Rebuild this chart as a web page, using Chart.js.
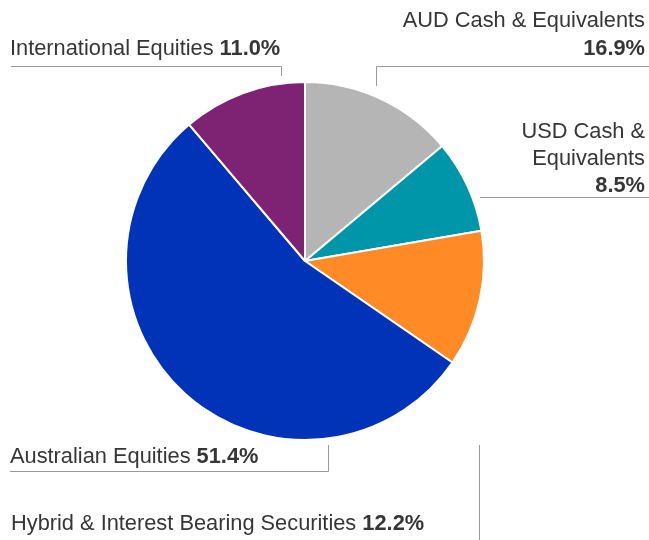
<!DOCTYPE html>
<html>
<head>
<meta charset="utf-8">
<script src="https://cdn.jsdelivr.net/npm/chart.js@4.4.0/dist/chart.umd.min.js"></script>
<style>
  html, body { margin: 0; padding: 0; background: #fff; }
  #wrap { width: 649px; height: 540px; }
</style>
</head>
<body>
<div id="wrap"><canvas id="allocationChart"></canvas></div>
<script>
// slice order follows the picture, clockwise from 12 o'clock
const categories = ['AUD Cash & Equivalents', 'USD Cash & Equivalents', 'Hybrid & Interest Bearing Securities', 'Australian Equities', 'International Equities'];
// slice sizes as drawn in the picture
const sliceValues = [13.9, 8.4, 12.3, 54.2, 11.2];
// percentages as printed in the labels
const labelValues = ['16.9%', '8.5%', '12.2%', '51.4%', '11.0%'];
const sliceColors = ['#b5b5b5', '#0096aa', '#ff8a26', '#0033b7', '#7e2373'];

const FONT = '"Liberation Sans", Arial, sans-serif';
const SIZE = '21.8px ';
const TEXT = '#363636';
const LINE = '#9a9a9a';

// draws "normal text" + " bold pct" on one line
function mixedText(ctx, x, y, normal, bold) {
  ctx.textAlign = 'left';
  ctx.font = SIZE + FONT;
  let w1 = ctx.measureText(normal).width;
  ctx.fillText(normal, x, y);
  ctx.font = 'bold ' + SIZE + FONT;
  ctx.fillText(bold, x + w1, y);
}

function line(ctx, pts) {
  ctx.beginPath();
  ctx.moveTo(pts[0][0], pts[0][1]);
  for (let i = 1; i < pts.length; i++) ctx.lineTo(pts[i][0], pts[i][1]);
  ctx.stroke();
}

const calloutPlugin = {
  id: 'callouts',
  afterDraw(chart) {
    const ctx = chart.ctx;
    ctx.save();
    ctx.fillStyle = TEXT;
    ctx.textBaseline = 'alphabetic';
    ctx.strokeStyle = LINE;
    ctx.lineWidth = 1;

    // International Equities
    mixedText(ctx, 10, 55, 'International Equities ', labelValues[4]);
    line(ctx, [[11, 66.5], [281.5, 66.5], [281.5, 76]]);

    // AUD Cash
    ctx.textAlign = 'right';
    ctx.font = SIZE + FONT;
    ctx.fillText('AUD Cash & Equivalents', 645, 27);
    ctx.font = 'bold ' + SIZE + FONT;
    ctx.fillText(labelValues[0], 645, 55);
    line(ctx, [[649, 66.5], [376.5, 66.5], [376.5, 86]]);

    // USD Cash
    ctx.font = SIZE + FONT;
    ctx.fillText('USD Cash &', 645, 138);
    ctx.fillText('Equivalents', 645, 165);
    ctx.font = 'bold ' + SIZE + FONT;
    ctx.fillText(labelValues[1], 645, 192);
    line(ctx, [[649, 197.5], [480, 197.5]]);

    // Australian Equities
    mixedText(ctx, 10, 463, 'Australian Equities ', labelValues[3]);
    line(ctx, [[10, 471.5], [328.5, 471.5], [328.5, 445]]);

    // Hybrid
    mixedText(ctx, 11, 530, 'Hybrid & Interest Bearing Securities ', labelValues[2]);
    line(ctx, [[479.5, 445], [479.5, 540]]);

    ctx.restore();
  }
};

new Chart(document.getElementById('allocationChart'), {
  type: 'pie',
  data: {
    labels: categories,
    datasets: [{
      data: sliceValues,
      backgroundColor: sliceColors,
      borderColor: '#ffffff',
      borderWidth: 2
    }]
  },
  options: {
    responsive: true,
    maintainAspectRatio: false,
    animation: false,
    layout: { padding: { left: 125, right: 164, top: 81, bottom: 99 } },
    plugins: {
      legend: { display: false },
      tooltip: { enabled: false }
    }
  },
  plugins: [calloutPlugin]
});
</script>
</body>
</html>
